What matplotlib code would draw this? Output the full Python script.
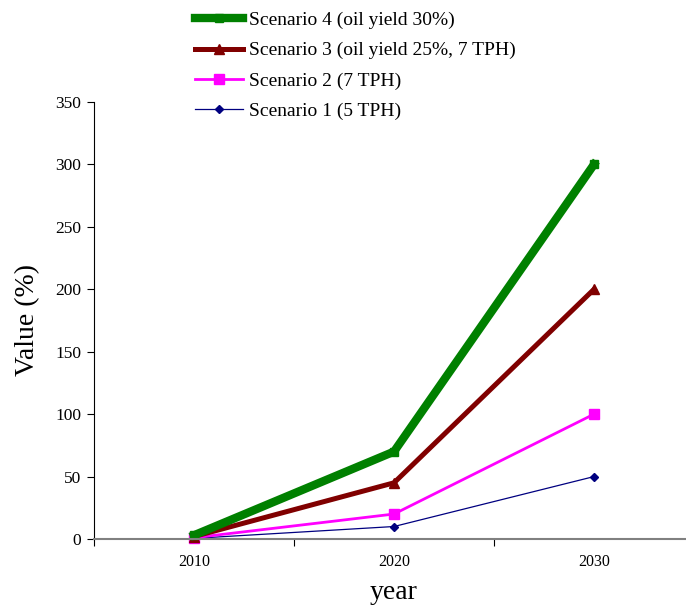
import matplotlib
matplotlib.use("Agg")
import matplotlib.pyplot as plt
from matplotlib.ticker import MultipleLocator, FixedLocator, NullFormatter

plt.rcParams['font.family'] = ['Liberation Serif', 'DejaVu Serif']

years = ['2010', '2020', '2030']
s1 = [0.5, 10, 50]
s2 = [1, 20, 100]
s3 = [2, 45, 200]
s4 = [3, 70, 300]

fig = plt.figure(figsize=(6.86, 6.06), dpi=100)
W, H = 686, 606
ax = fig.add_axes([94 / W, 1 - 539 / H, (694 - 94) / W, (539 - 102) / H])

x = list(range(len(years)))
l1, = ax.plot(x, s1, color='#000080', lw=0.9, marker='D', ms=4, label='Scenario 1 (5 TPH)', clip_on=False)
l2, = ax.plot(x, s2, color='#FF00FF', lw=2.0, marker='s', ms=7, label='Scenario 2 (7 TPH)', clip_on=False)
l3, = ax.plot(x, s3, color='#800000', lw=3.6, marker='^', ms=7, label='Scenario 3 (oil yield 25%, 7 TPH)', clip_on=False)
l4, = ax.plot(x, s4, color='#008000', lw=6.0, marker='s', ms=6, label='Scenario 4 (oil yield 30%)', clip_on=False)

ax.set_xlim(-0.5, 2.5)
ax.set_ylim(0, 350)
ax.yaxis.set_major_locator(MultipleLocator(50))
ax.xaxis.set_major_locator(FixedLocator([-0.5, 0.5, 1.5, 2.5]))
ax.xaxis.set_major_formatter(NullFormatter())
ax.xaxis.set_minor_locator(FixedLocator(x))
ax.set_xticklabels(years, minor=True)
ax.tick_params(axis='x', which='minor', length=0, pad=11, labelsize=11.5)
ax.tick_params(axis='x', which='major', length=5, direction='out', color='black')
ax.tick_params(axis='y', length=5, direction='out', labelsize=12.5, pad=4)

for s in ['top', 'right']:
    ax.spines[s].set_visible(False)
ax.spines['bottom'].set_color('#808080')
ax.spines['bottom'].set_linewidth(1.5)
ax.spines['left'].set_color('black')

ax.set_ylabel('Value (%)', fontsize=20, labelpad=11)
ax.set_xlabel('year', fontsize=20, labelpad=7)

fig.legend(handles=[l4, l3, l2, l1], loc='upper left',
           bbox_to_anchor=(177 / W, 1 + 6 / H), frameon=False,
           fontsize=14, handlelength=2.5, labelspacing=0.65, handletextpad=0.3)

fig.savefig('out.png', dpi=100)
